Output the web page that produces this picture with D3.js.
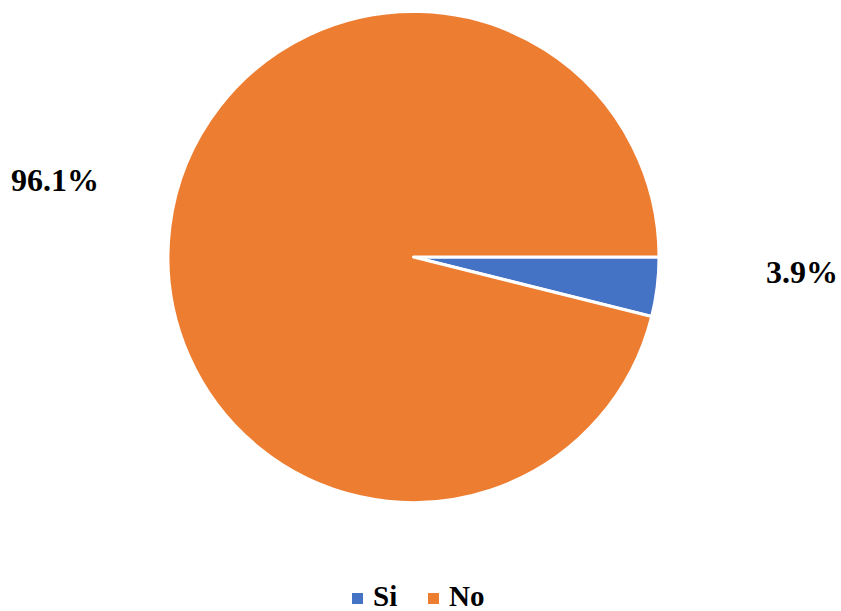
<!DOCTYPE html>
<html>
<head>
<meta charset="utf-8">
<script src="https://cdn.jsdelivr.net/npm/d3@7"></script>
<style>
  body { margin: 0; background: #fff; }
  svg text { font-family: "Liberation Serif", "Times New Roman", serif; font-weight: bold; fill: #000; }
</style>
</head>
<body>
<div id="chart"></div>
<script>
var categories = ["Si", "No"];
var values = [3.9, 96.1];
var colors = ["#4472C4", "#ED7D31"];

var width = 841, height = 611;
var cx = 413.5, cy = 257, radius = 245.5;

var svg = d3.select("#chart").append("svg")
   .attr("width", width)
   .attr("height", height);

var data = categories.map(function(c, i) { return {name: c, value: values[i], color: colors[i]}; });

// first slice starts at 3 o'clock, clockwise
var pie = d3.pie()
   .sort(null)
   .value(function(d) { return d.value; })
   .startAngle(Math.PI / 2)
   .endAngle(Math.PI / 2 + 2 * Math.PI);

var arc = d3.arc().innerRadius(0).outerRadius(radius);

var g = svg.append("g").attr("transform", "translate(" + cx + "," + cy + ")");

g.selectAll("path")
   .data(pie(data))
   .enter().append("path")
   .attr("d", arc)
   .attr("fill", function(d) { return d.data.color; })
   .attr("stroke", "#fff")
   .attr("stroke-width", 3)
   .attr("stroke-linejoin", "round");

// data labels outside the pie
var labelPos = [[802, 283], [55, 191]];
svg.selectAll(".lbl")
   .data(data)
   .enter().append("text")
   .attr("class", "lbl")
   .attr("x", function(d, i) { return labelPos[i][0]; })
   .attr("y", function(d, i) { return labelPos[i][1]; })
   .attr("text-anchor", "middle")
   .attr("font-size", 32)
   .text(function(d) { return d.value.toFixed(1) + "%"; });

// legend
var legendX = [352, 428];
var lg = svg.selectAll(".leg")
   .data(data)
   .enter().append("g")
   .attr("class", "leg")
   .attr("transform", function(d, i) { return "translate(" + legendX[i] + ",0)"; });

lg.append("rect")
   .attr("x", 0).attr("y", 593)
   .attr("width", 11).attr("height", 11)
   .attr("fill", function(d) { return d.color; });

lg.append("text")
   .attr("x", 21).attr("y", 606)
   .attr("font-size", 29)
   .text(function(d) { return d.name; });
</script>
</body>
</html>
